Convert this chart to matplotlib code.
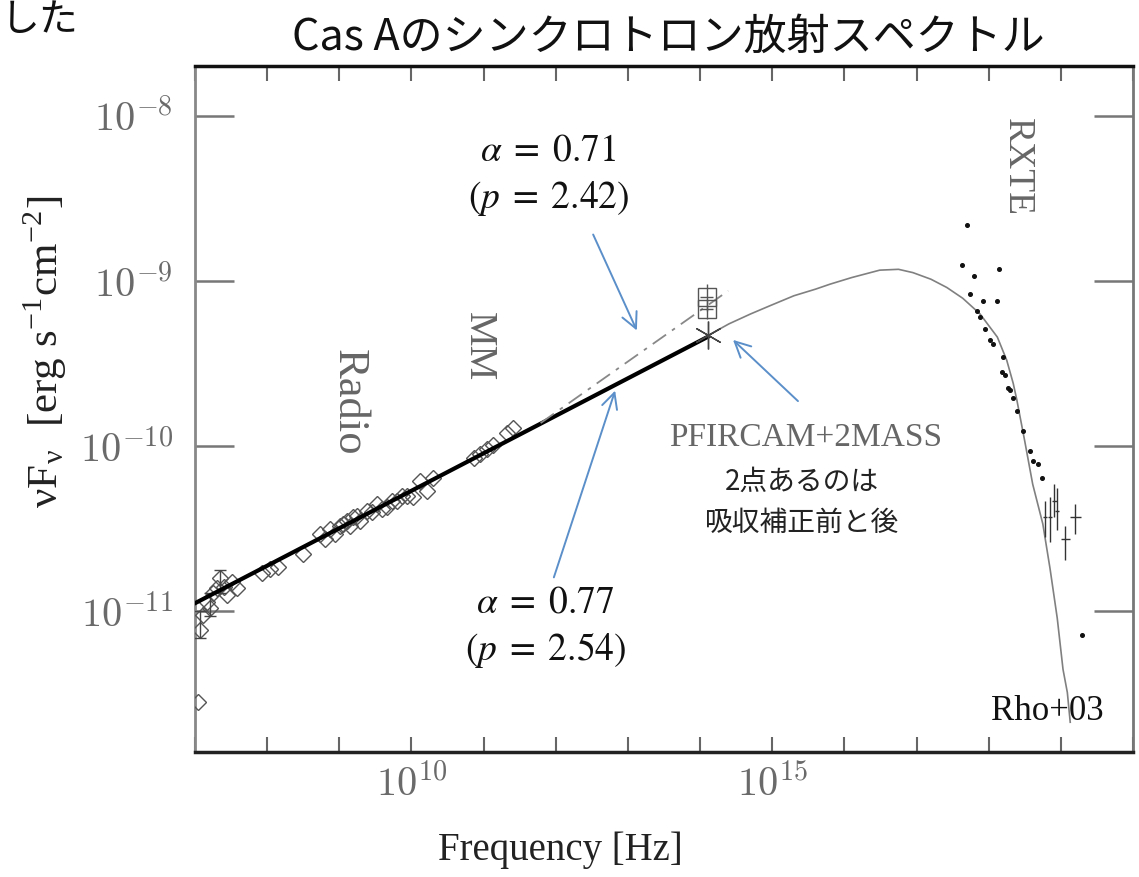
import matplotlib
matplotlib.use("Agg")
import matplotlib.pyplot as plt
import numpy as np

# ---------------- data (log10 values) ----------------
radio_lognu = [7.04, 7.07, 7.11, 7.17, 7.21, 7.25, 7.31, 7.35, 7.40, 7.44, 7.51, 7.58,
               7.93, 8.04, 8.15, 8.50, 8.73, 8.80, 8.87, 8.94, 9.01, 9.05, 9.11, 9.15,
               9.19, 9.25, 9.29, 9.39, 9.45, 9.52, 9.59, 9.66, 9.73, 9.80, 9.87, 9.94,
               10.02, 10.12, 10.22, 10.30, 10.86, 10.95, 11.05, 11.13, 11.33, 11.41]
radio_logf = [-11.55, -11.11, -11.02, -10.94, -10.98, -10.89, -10.86, -10.80, -10.85, -10.90,
              -10.82, -10.86, -10.77, -10.74, -10.73, -10.65, -10.53, -10.56, -10.50, -10.53,
              -10.48, -10.47, -10.45, -10.48, -10.43, -10.42, -10.45, -10.39, -10.40, -10.35,
              -10.38, -10.37, -10.33, -10.33, -10.30, -10.30, -10.31, -10.21, -10.27, -10.19,
              -10.07, -10.05, -10.02, -9.99, -9.92, -9.89]

# radio points with error bars (left end)
radio_err_lognu = [7.07, 7.21, 7.35]
radio_err_logf = [-11.08, -10.96, -10.82]
radio_err_dex = [0.08, 0.07, 0.07]

# power-law fits (end points)
fit077_lognu = [7.0, 14.10]
fit077_logf = [-10.95, -9.34]
fit071_lognu = [11.79, 14.39]
fit071_logf = [-9.86, -9.06]

# IR points (PFIRCAM + 2MASS): squares (before correction) and asterisk (after)
ir_sq_lognu = [14.09, 14.09]
ir_sq_logf = [-9.10, -9.17]
ir_sq_err = [0.08, 0.06]
ir_star_lognu = [14.115]
ir_star_logf = [-9.33]

# synchrotron model curve (Rho+03)
model_lognu = [14.11, 14.40, 14.70, 14.97, 15.30, 15.60, 15.80, 16.10, 16.49, 16.75,
               16.95, 17.20, 17.42, 17.64, 17.88, 18.12, 18.25, 18.34, 18.39, 18.50,
               18.61, 18.75, 18.85, 18.95, 19.03, 19.09, 19.13]
model_logf = [-9.33, -9.26, -9.20, -9.15, -9.09, -9.05, -9.02, -8.98, -8.935, -8.93,
              -8.95, -8.99, -9.04, -9.105, -9.20, -9.34, -9.48, -9.62, -9.72, -9.97,
              -10.23, -10.47, -10.74, -11.04, -11.35, -11.49, -11.67]

# RXTE data (dots)
rxte_lognu = [17.70, 17.63, 18.14, 17.80, 17.74, 17.92, 18.12, 17.84, 17.88, 17.95, 18.02,
              18.06, 18.20, 18.23, 18.27, 18.34, 18.19, 18.30, 18.39, 18.48, 18.57, 18.61,
              18.68, 18.74, 19.29]
rxte_logf = [-8.66, -8.905, -8.93, -8.97, -9.08, -9.12, -9.12, -9.18, -9.22, -9.29, -9.36,
             -9.38, -9.46, -9.57, -9.65, -9.71, -9.55, -9.66, -9.79, -9.91, -10.03, -10.09,
             -10.11, -10.19, -11.14]

# RXTE high-energy points with error bars
rxte_eb_lognu = [18.78, 18.85, 18.91, 18.95, 19.06, 19.20]
rxte_eb_logf = [-10.43, -10.43, -10.33, -10.39, -10.56, -10.43]
rxte_eb_lo = [0.12, 0.15, 0.10, 0.12, 0.13, 0.10]
rxte_eb_hi = [0.10, 0.12, 0.10, 0.14, 0.08, 0.08]
rxte_eb_xerr = [0.03, 0.03, 0.03, 0.03, 0.06, 0.08]

xticks_log = list(range(7, 21))
yticks_log = [-11, -10, -9, -8]

# ---------------- figure ----------------
plt.rcParams['font.family'] = ['Liberation Serif', 'DejaVu Serif']
W, H = 1139, 877
fig = plt.figure(figsize=(W / 100, H / 100), dpi=100)
L, R, T, B = 195, 1133, 66, 752
ax = fig.add_axes([L / W, 1 - B / H, (R - L) / W, (B - T) / H])
ax.set_xscale('log')
ax.set_yscale('log')
ax.set_xlim(10 ** 7.0, 10 ** 20.0)
ax.set_ylim(10 ** -11.85, 10 ** -7.70)

p = lambda v: [10 ** x for x in v]

# radio diamonds
ax.plot(p(radio_lognu), p(radio_logf), linestyle='none', marker='D', markersize=8.5,
        markerfacecolor='none', markeredgecolor='#555555', markeredgewidth=1.0, zorder=3)
ry = np.array(radio_err_logf)
rd = np.array(radio_err_dex)
ax.errorbar(p(radio_err_lognu), p(radio_err_logf),
            yerr=[10 ** ry - 10 ** (ry - rd), 10 ** (ry + rd) - 10 ** ry],
            fmt='none', ecolor='#444444', elinewidth=1.0, capsize=4, zorder=3)

# fits
ax.plot(p(fit077_lognu), p(fit077_logf), color='black', lw=3.0, zorder=4)
ax.plot(p(fit071_lognu), p(fit071_logf), color='#888888', lw=1.3,
        linestyle=(0, (9, 4, 2, 4)), zorder=4)

# IR points
sy = np.array(ir_sq_logf)
se = np.array(ir_sq_err)
ax.errorbar(p(ir_sq_lognu), p(ir_sq_logf),
            yerr=[10 ** sy - 10 ** (sy - se), 10 ** (sy + se) - 10 ** sy],
            xerr=[[10 ** 14.09 - 10 ** 14.0] * 2, [10 ** 14.18 - 10 ** 14.09] * 2],
            fmt='s', markersize=13, markerfacecolor='none', markeredgecolor='#555555',
            ecolor='#555555', elinewidth=1.0, zorder=5)
ax.plot(p(ir_star_lognu), p(ir_star_logf), linestyle='none', marker=(6, 2, 0),
        markersize=20, markeredgecolor='#444444', markeredgewidth=1.0, zorder=5)

# model
ax.plot(p(model_lognu), p(model_logf), color='#808080', lw=1.2, zorder=3)

# RXTE
ax.plot(p(rxte_lognu), p(rxte_logf), linestyle='none', marker='o', markersize=2.6,
        color='#111111', zorder=5)
ey = np.array(rxte_eb_logf)
ex = np.array(rxte_eb_lognu)
exe = np.array(rxte_eb_xerr)
ax.errorbar(p(rxte_eb_lognu), p(rxte_eb_logf),
            yerr=[10 ** ey - 10 ** (ey - np.array(rxte_eb_lo)),
                  10 ** (ey + np.array(rxte_eb_hi)) - 10 ** ey],
            xerr=[10 ** ex - 10 ** (ex - exe), 10 ** (ex + exe) - 10 ** ex],
            fmt='none', ecolor='#333333', elinewidth=1.0, zorder=5)

# ---------------- axes styling ----------------
ax.xaxis.set_minor_locator(matplotlib.ticker.NullLocator())
ax.yaxis.set_minor_locator(matplotlib.ticker.NullLocator())
ax.set_xticks([10.0 ** k for k in xticks_log])
ax.set_xticklabels(['$10^{%d}$' % k if k in (10, 15) else '' for k in xticks_log])
ax.set_yticks([10.0 ** k for k in yticks_log])
ax.set_yticklabels(['$10^{%d}$' % k for k in yticks_log])
for lab in ax.get_xticklabels() + ax.get_yticklabels():
    lab.set_math_fontfamily('cm')
    lab.set_fontsize(29)
    lab.set_color('#6a6a6a')
ax.tick_params(axis='x', which='major', direction='in', length=11, width=1.5,
               color='#666666', top=True, pad=9)
ax.tick_params(axis='y', which='major', direction='in', length=28, width=1.8,
               color='#777777', right=True, pad=16)
for side, col, lw in [('top', '#111111', 2.5), ('bottom', '#222222', 2.5),
                      ('left', '#888888', 2.0), ('right', '#777777', 2.0)]:
    ax.spines[side].set_color(col)
    ax.spines[side].set_linewidth(lw)

# ---------------- texts ----------------
def af(px, py):
    return ((px - L) / (R - L), (B - py) / (B - T))

serif = dict(family=['Liberation Serif', 'DejaVu Serif'], math_fontfamily='stix')
cjk = ['Noto Sans CJK JP', 'DejaVu Sans']

ax.text(*af(548, 151), r'$\alpha\;=\;0.71$', transform=ax.transAxes, ha='center', va='center',
        fontsize=27, color='#111111', **serif)
ax.text(*af(549, 198), r'$(p\;=\;2.42)$', transform=ax.transAxes, ha='center', va='center',
        fontsize=27, color='#111111', **serif)
ax.text(*af(545, 603), r'$\alpha\;=\;0.77$', transform=ax.transAxes, ha='center', va='center',
        fontsize=27, color='#111111', **serif)
ax.text(*af(546, 650), r'$(p\;=\;2.54)$', transform=ax.transAxes, ha='center', va='center',
        fontsize=27, color='#111111', **serif)

ax.text(*af(349, 402), 'Radio', transform=ax.transAxes, ha='center', va='center',
        rotation=-90, fontsize=32, color='#666666', **serif)
ax.text(*af(478, 347), 'MM', transform=ax.transAxes, ha='center', va='center',
        rotation=-90, fontsize=28, color='#666666', **serif)
ax.text(*af(1017, 167), 'RXTE', transform=ax.transAxes, ha='center', va='center',
        rotation=-90, fontsize=27, color='#666666', **serif)
ax.text(*af(806, 438), 'PFIRCAM+2MASS', transform=ax.transAxes, ha='center', va='center',
        fontsize=24, color='#666666', **serif)
ax.text(*af(802, 482), '2点あるのは', transform=ax.transAxes, ha='center', va='center',
        fontsize=20, color='#222222', family=cjk)
ax.text(*af(802, 523), '吸収補正前と後', transform=ax.transAxes, ha='center', va='center',
        fontsize=20, color='#222222', family=cjk)
ax.text(*af(1047, 711), 'Rho+03', transform=ax.transAxes, ha='center', va='center',
        fontsize=25, color='#111111', **serif)

# arrows
arrow = dict(arrowstyle='->', color='#5b8fc9', lw=1.4, mutation_scale=28)
for (x0, y0, x1, y1) in [(592, 232, 638, 333), (553, 580, 616, 388), (800, 403, 731, 338)]:
    ax.annotate('', xy=af(x1, y1), xytext=af(x0, y0), xycoords='axes fraction',
                textcoords='axes fraction', arrowprops=arrow)

# labels
fig.text(560 / W, 1 - 850 / H, 'Frequency [Hz]', ha='center', va='center',
         fontsize=28, color='#222222', **serif)
fig.text(45 / W, 1 - 352 / H,
         r'νF$_{\mathregular{ν}}$  [erg s$^{\mathregular{-1}}$cm$^{\mathregular{-2}}$]',
         rotation=90, ha='center', va='center', fontsize=31, color='#222222', **serif)

# title and clipped fragment
fig.text(668 / W, 1 - 38 / H, 'Cas Aのシンクロトロン放射スペクトル', ha='center', va='center',
         fontsize=31, color='#111111', family=cjk)
fig.text(40 / W, 1 - 20 / H, 'した', ha='center', va='center',
         fontsize=28, color='#111111', family=cjk)

fig.savefig('out.png', dpi=100)
